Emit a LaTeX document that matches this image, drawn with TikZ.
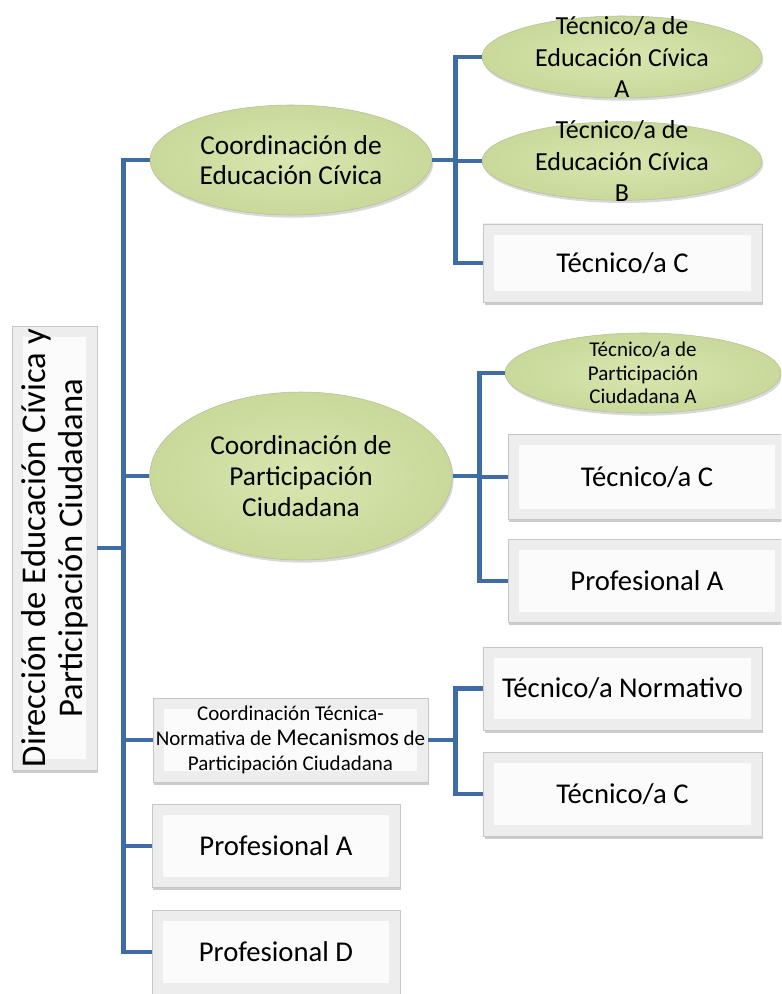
\documentclass[tikz,border=0pt]{standalone}
\usepackage{fontspec}
\setmainfont{Carlito}
\usetikzlibrary{shapes.geometric,shadows}

\definecolor{linkblue}{HTML}{3F6CA4}
\definecolor{ellin}{HTML}{D9E6B0}
\definecolor{ellout}{HTML}{C8D99A}
\colorlet{ellrim}{ellout!75!black!70}
\tikzset{
  office/.style={ellipse,draw=ellrim,inner color=ellin,outer color=ellout,align=center,inner sep=0pt,
    drop shadow={opacity=0.3,shadow xshift=1pt,shadow yshift=-2pt},font=\fontsize{20.5}{23}\selectfont},
  oftext/.style={align=center,inner sep=0pt,font=\fontsize{19.5}{23.3}\selectfont},
  postbox/.style={rectangle,draw=gray!45,fill=gray!3,align=center,inner sep=1pt,
    drop shadow={opacity=0.4,shadow xshift=1pt,shadow yshift=-2pt},font=\fontsize{21.5}{24}\selectfont,
    path picture={\draw[gray!14,line width=16pt] (path picture bounding box.south west) rectangle (path picture bounding box.north east);}},
  headbox/.style={postbox,rotate=90,inner sep=2pt,font=\fontsize{26}{28}\selectfont},
  link/.style={draw=linkblue,line width=3.6pt},
}

\begin{document}
\begin{tikzpicture}[x=0.75pt,y=-0.75pt]
  \useasboundingbox (0,0) rectangle (781,994);
  \clip (0,0) rectangle (781,994);

  \node [headbox,minimum width=327.75pt,minimum height=63.75pt] (root) at (54.5,548)
    {Dirección de Educación Cívica y\\Participación Ciudadana};

  \node [office,minimum width=211.5pt,minimum height=82.5pt] (cec) at (291,160)
    {Coordinación de\\Educación Cívica};
  \node [office,minimum width=210pt,minimum height=61.5pt,
    label={[oftext]center:Técnico/a de\\Educación Cívica\\A}] (tca) at (622,57) {};
  \node [office,minimum width=210pt,minimum height=59pt,
    label={[oftext]center:Técnico/a de\\Educación Cívica\\B}] (tcb) at (622,161) {};
  \node [postbox,minimum width=209pt,minimum height=58.5pt] (tcc1) at (622.5,263) {Técnico/a C};

  \node [office,minimum width=227pt,minimum height=126pt] (cpc) at (301,476)
    {Coordinación de\\Participación\\Ciudadana};
  \node [office,minimum width=207pt,minimum height=60pt,
    label={[oftext,font=\fontsize{15.75}{17.6}\selectfont]center:Técnico/a de\\Participación\\Ciudadana A}] (tpa) at (643,373) {};
  \node [postbox,minimum width=208.5pt,minimum height=63.75pt] (tcc2) at (647,477) {Técnico/a C};
  \node [postbox,minimum width=208.5pt,minimum height=62.25pt] (pfa1) at (647,581) {Profesional A};

  \node [postbox,minimum width=206.25pt,minimum height=63pt,inner sep=0pt,font=\fontsize{15.75}{18.75}\selectfont] (ctn) at (290.5,740)
    {Coordinación Técnica-\\Normativa de {\fontsize{18}{18}\selectfont Mecanismos} de\\Participación Ciudadana};
  \node [postbox,minimum width=209pt,minimum height=62.25pt] (tcn) at (622.5,688.5) {Técnico/a Normativo};
  \node [postbox,minimum width=209pt,minimum height=63pt] (tcc3) at (622.5,794) {Técnico/a C};

  \node [postbox,minimum width=186pt,minimum height=62.25pt] (pfa2) at (276,846) {Profesional A};
  \node [postbox,minimum width=186pt,minimum height=63pt] (pfd) at (276,952) {Profesional D};

  \foreach \c in {cec,cpc,ctn,pfa2,pfd}
    \draw [link] (root.south) -- ++(26,0) |- (\c.west);
  \foreach \c in {tca,tcb,tcc1}
    \draw [link] (cec.east) -- ++(23,0) |- (\c.west);
  \foreach \c in {tpa,tcc2,pfa1}
    \draw [link] (cpc.east) -- ++(27,0) |- (\c.west);
  \foreach \c in {tcn,tcc3}
    \draw [link] (ctn.east) -- ++(27,0) |- (\c.west);
\end{tikzpicture}
\end{document}
